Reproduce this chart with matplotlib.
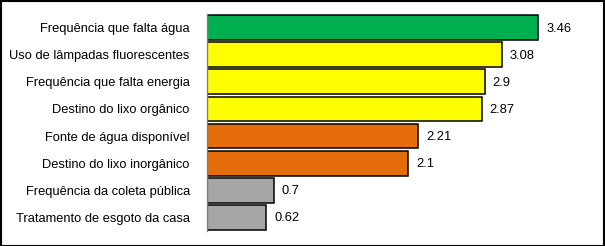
import numpy as np
import matplotlib.pyplot as plt
from matplotlib.patches import Rectangle

# ------------------------Data--------------------------------------------------
labels = ['Frequência que falta água', 'Uso de lâmpadas fluorescentes',
          'Frequência que falta energia', 'Destino do lixo orgânico',
          'Fonte de água disponível', 'Destino do lixo inorgânico',
          'Frequência da coleta pública', 'Tratamento de esgoto da casa']
values = [3.46, 3.08, 2.9, 2.87, 2.21, 2.1, 0.7, 0.62]
value_text = ['3.46', '3.08', '2.9', '2.87', '2.21', '2.1', '0.7', '0.62']
colors = ['#00B050', '#FFFF00', '#FFFF00', '#FFFF00',
          '#E46C0A', '#E46C0A', '#A6A6A6', '#A6A6A6']
# ------------------------------------------------------------------------------
plt.rcParams['font.family'] = ['Liberation Sans', 'DejaVu Sans']

fig = plt.figure(figsize=(6.05, 2.46), dpi=100)
ax = fig.add_axes([206.5/605, 15.2/246, (590-206.5)/605, (231.8-15.2)/246])

ypos = np.arange(len(labels))
ax.barh(ypos, values, height=0.92, color=colors, edgecolor='black', linewidth=1.1)
for y, v, t in zip(ypos, values, value_text):
    ax.text(v + 0.085, y + 0.03, t, va='center', ha='left', fontsize=9.3)

ax.set_xlim(0, 4.0)
ax.set_ylim(len(labels) - 0.5, -0.5)
ax.set_yticks(ypos)
ax.set_yticklabels(labels, fontsize=9.3)
ax.tick_params(axis='y', length=0, pad=12)
ax.set_xticks([])
for s in ['top', 'right', 'bottom']:
    ax.spines[s].set_visible(False)
ax.spines['left'].set_color('#808080')
ax.spines['left'].set_linewidth(1.0)

# outer frame
fig.patches.append(Rectangle((0.001, 0.002), 0.997, 0.995, transform=fig.transFigure,
                             fill=False, edgecolor='black', linewidth=1.5))

plt.savefig('out.png', dpi=100)
